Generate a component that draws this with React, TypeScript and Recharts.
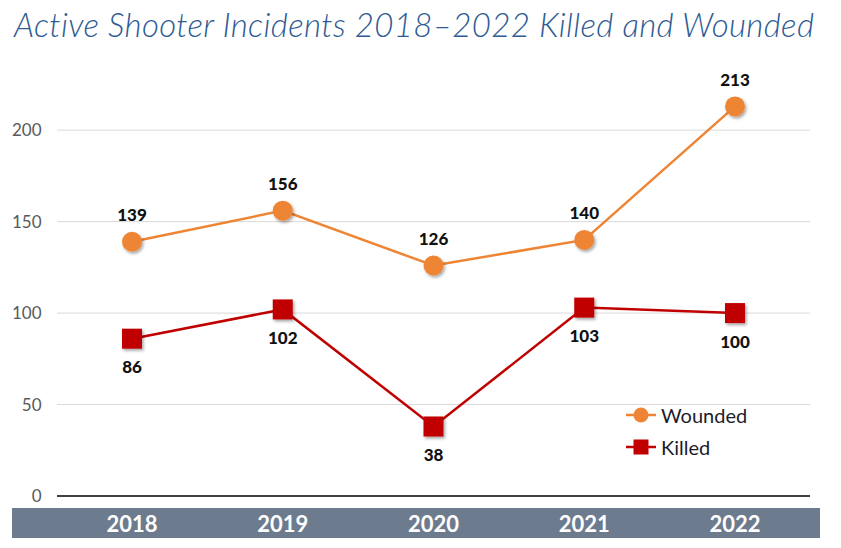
import React from 'react';
import { LineChart, Line, XAxis, YAxis, ReferenceLine, Legend, LabelList } from 'recharts';

const years = ['2018', '2019', '2020', '2021', '2022'];
const wounded = [139, 156, 126, 140, 213];
const killed = [86, 102, 38, 103, 100];
const yTicks = [0, 50, 100, 150, 200];

const data = years.map((year, i) => ({ year, Wounded: wounded[i], Killed: killed[i] }));

const ORANGE = '#EE8535';
const RED = '#C00000';
const FONT = 'Lato, "Open Sans", sans-serif';

const CircleDot = (props: any) => {
  const { cx, cy, index } = props;
  if (cx == null || cy == null) return <g key={`c${index}`} />;
  return <circle key={`c${index}`} cx={cx} cy={cy} r={10} fill={ORANGE} filter="url(#mkShadow)" />;
};

const SquareDot = (props: any) => {
  const { cx, cy, index } = props;
  if (cx == null || cy == null) return <g key={`s${index}`} />;
  return <rect key={`s${index}`} x={cx - 10} y={cy - 10} width={20} height={20} fill={RED} filter="url(#mkShadow)" />;
};

const TopLabel = (props: any) => {
  const { x, y, value } = props;
  return (
    <text x={x} y={y - 27} textAnchor="middle" dominantBaseline="central" fontFamily={FONT} fontWeight={900} fontSize={17} fill="#111">
      {value}
    </text>
  );
};

const BottomLabel = (props: any) => {
  const { x, y, value } = props;
  return (
    <text x={x} y={y + 28} textAnchor="middle" dominantBaseline="central" fontFamily={FONT} fontWeight={900} fontSize={17} fill="#111">
      {value}
    </text>
  );
};

const XTick = (props: any) => {
  const { x, y, payload } = props;
  return (
    <text x={x} y={y + 19} textAnchor="middle" dominantBaseline="central" fontFamily={FONT} fontWeight={700} fontSize={22} fill="#fff">
      {payload.value}
    </text>
  );
};

const LegendContent = () => (
  <div style={{ fontFamily: FONT }}>
    <div style={{ display: 'flex', alignItems: 'center', height: 32 }}>
      <svg width={30} height={20} style={{ display: 'block' }}>
        <line x1={0} y1={10} x2={30} y2={10} stroke={ORANGE} strokeWidth={2.5} />
        <circle cx={15} cy={10} r={7.5} fill={ORANGE} />
      </svg>
      <span style={{ marginLeft: 5, fontSize: 20, color: '#1c1c2a' }}>Wounded</span>
    </div>
    <div style={{ display: 'flex', alignItems: 'center', height: 32 }}>
      <svg width={30} height={20} style={{ display: 'block' }}>
        <line x1={0} y1={10} x2={30} y2={10} stroke={RED} strokeWidth={2.5} />
        <rect x={7.5} y={2.5} width={15} height={15} fill={RED} />
      </svg>
      <span style={{ marginLeft: 5, fontSize: 20, color: '#1c1c2a' }}>Killed</span>
    </div>
  </div>
);

export default function App() {
  return (
    <div style={{ position: 'absolute', left: 0, top: 0, width: 841, height: 548, background: '#fff', overflow: 'hidden' }}>
      <svg width={0} height={0} style={{ position: 'absolute' }}>
        <defs>
          <filter id="mkShadow" x="-50%" y="-50%" width="200%" height="200%">
            <feDropShadow dx={1.5} dy={2} stdDeviation={1.5} floodColor="#000" floodOpacity={0.35} />
          </filter>
        </defs>
      </svg>
      <div
        style={{
          position: 'absolute',
          left: 14,
          top: 4,
          fontFamily: FONT,
          fontStyle: 'italic',
          fontWeight: 300,
          fontSize: 33,
          letterSpacing: 0.35,
          color: '#2E5B94',
          whiteSpace: 'nowrap',
        }}
      >
        Active Shooter Incidents 2018–2022 Killed and Wounded
      </div>
      <div style={{ position: 'absolute', left: 12, top: 508, width: 808, height: 30, background: '#6D7B8E' }} />
      <div style={{ position: 'absolute', left: 0, top: 0 }}>
        <LineChart width={841} height={548} data={data} margin={{ top: 57, right: 31, left: 0, bottom: 22 }}>
          {yTicks.slice(1).map((t) => (
            <ReferenceLine key={`g${t}`} y={t} stroke="#D9D9D9" strokeWidth={1} />
          ))}
          <XAxis
            dataKey="year"
            height={30}
            padding={{ left: 75, right: 75 }}
            tickLine={false}
            axisLine={{ stroke: '#404040', strokeWidth: 2 }}
            tick={<XTick />}
            interval={0}
          />
          <YAxis
            width={57}
            domain={[0, 240]}
            ticks={yTicks}
            axisLine={false}
            tickLine={false}
            tickMargin={9.5}
            tick={{ fontFamily: FONT, fontSize: 17, fill: '#595959' }}
          />
          <Legend
            layout="vertical"
            align="center"
            verticalAlign="middle"
            content={<LegendContent />}
            wrapperStyle={{ left: 626, top: 399, width: 160 }}
          />
          <Line
            dataKey="Wounded"
            stroke={ORANGE}
            strokeWidth={2.5}
            dot={CircleDot}
            activeDot={false}
            isAnimationActive={false}
          >
            <LabelList dataKey="Wounded" content={TopLabel} />
          </Line>
          <Line
            dataKey="Killed"
            stroke={RED}
            strokeWidth={2.5}
            dot={SquareDot}
            activeDot={false}
            isAnimationActive={false}
          >
            <LabelList dataKey="Killed" content={BottomLabel} />
          </Line>
        </LineChart>
      </div>
    </div>
  );
}
